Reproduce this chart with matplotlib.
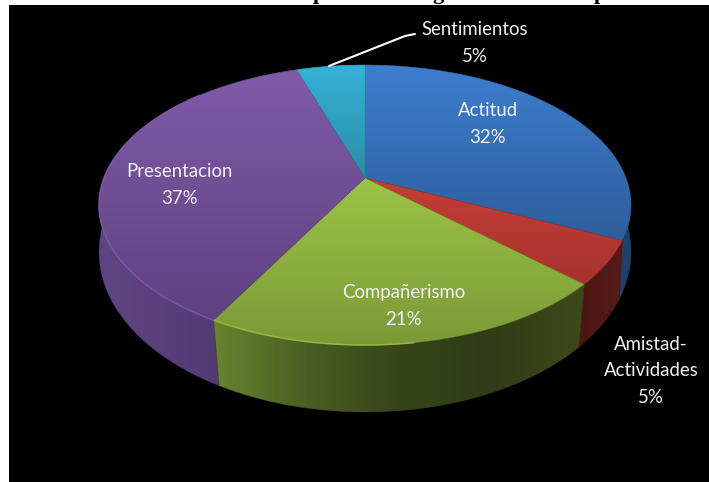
import numpy as np
import matplotlib
matplotlib.use("Agg")
import matplotlib.pyplot as plt
from matplotlib.path import Path
from matplotlib.patches import PathPatch, Rectangle
from matplotlib.colors import LinearSegmentedColormap

categories = ["Actitud", "Amistad-\nActividades", "Compañerismo", "Presentacion", "Sentimientos"]
values = [32, 5, 21, 37, 5]
shown = ["32%", "5%", "21%", "37%", "5%"]

top_colors = [("#3d7ecf", "#2d5e9b"), ("#c63e36", "#a5332e"), ("#9cc445", "#7a9a37"),
              ("#805ba9", "#5f4180"), ("#36b2d6", "#2a8da8")]
side_colors = [["#27507f", "#1f4068"], ["#4a1714", "#571b18"],
               ["#66842f", "#4a5e24", "#354518", "#2f3c16", "#3c4a1a"],
               ["#604584", "#563c76", "#4b3364"], ["#2a8da8", "#2a8da8"]]
label_xy = [(488, 124), (651, 371), (404, 306), (179, 185), (475, 43)]

W, H = 709, 482
CX = 365
UPPER = dict(cy=178, sx=261, sy=134.8, k=0.193)
LOWER = dict(cy=228, sx=263, sy=156.4, k=0.15)

fig = plt.figure(figsize=(W / 100, H / 100), dpi=100, facecolor="white")
ax = fig.add_axes([0, 0, 1, 1])
ax.set_xlim(0, W)
ax.set_ylim(H, 0)
ax.axis("off")


def project(theta, disc=UPPER):
    u, v = np.sin(theta), np.cos(theta)
    d = 1 + disc["k"] * v
    return CX + disc["sx"] * u / d, disc["cy"] - disc["sy"] * v / d


def gradient(path, colors, vertical=True, z=3):
    px = path.vertices
    x0, x1, y0, y1 = px[:, 0].min(), px[:, 0].max(), px[:, 1].min(), px[:, 1].max()
    cmap = LinearSegmentedColormap.from_list("g", colors)
    ramp = np.linspace(0, 1, 256)
    img = ramp[:, None] if vertical else ramp[None, :]
    im = ax.imshow(img, cmap=cmap, extent=(x0, x1, y1, y0), aspect="auto", zorder=z,
                   interpolation="bilinear", origin="upper")
    im.set_clip_path(PathPatch(path, transform=ax.transData))
    ax.add_patch(PathPatch(path, facecolor="none", edgecolor=colors[-1], lw=0.4, zorder=z, alpha=0.6))


# descenders of the cropped title, the rest is hidden behind the black panel
for gx, ch in zip([319, 438, 600], ["p", "g", "p"]):
    ax.text(gx, -0.5, ch, family="Liberation Serif", weight="bold", fontsize=16,
            ha="center", va="baseline", color="black", zorder=1, clip_on=True)
ax.add_patch(Rectangle((9, 5), W - 9, H - 5, facecolor="black", edgecolor="none", zorder=2))

bounds = 2 * np.pi * np.concatenate([[0], np.cumsum(values)]) / np.sum(values)
slices = list(zip(bounds[:-1], bounds[1:]))

for i in [0, 4, 3, 1, 2]:
    a, b = slices[i]
    t = np.linspace(a, b, 120)
    xt, yt = project(t)
    xb, yb = project(t[::-1], LOWER)
    verts = np.column_stack([np.r_[xt, xb, xt[0]], np.r_[yt, yb, yt[0]]])
    gradient(Path(verts), side_colors[i], vertical=False, z=3)

for i, (a, b) in enumerate(slices):
    t = np.linspace(a, b, 120)
    xt, yt = project(t)
    verts = np.column_stack([np.r_[CX, xt, CX], np.r_[UPPER["cy"], yt, UPPER["cy"]]])
    gradient(Path(verts), top_colors[i], vertical=True, z=4)
    if i in (2, 3):
        front = t[(t > np.pi * 0.95) & (t < np.pi * 1.75)]
        xf, yf = project(front)
        ax.plot(xf, yf, color=top_colors[i][0], lw=1.1, alpha=0.85, zorder=5)

ax.plot([329, 405, 415], [66, 36, 34], color="white", lw=1.5, zorder=6, solid_capstyle="round")

for name, pct, (lx, ly) in zip(categories, shown, label_xy):
    ax.text(lx, ly, f"{name}\n{pct}", family="Lato", fontsize=13.4, color="#f2f2f2",
            ha="center", va="center", linespacing=1.68, zorder=7)

fig.savefig("out.png", dpi=100, facecolor="white")
